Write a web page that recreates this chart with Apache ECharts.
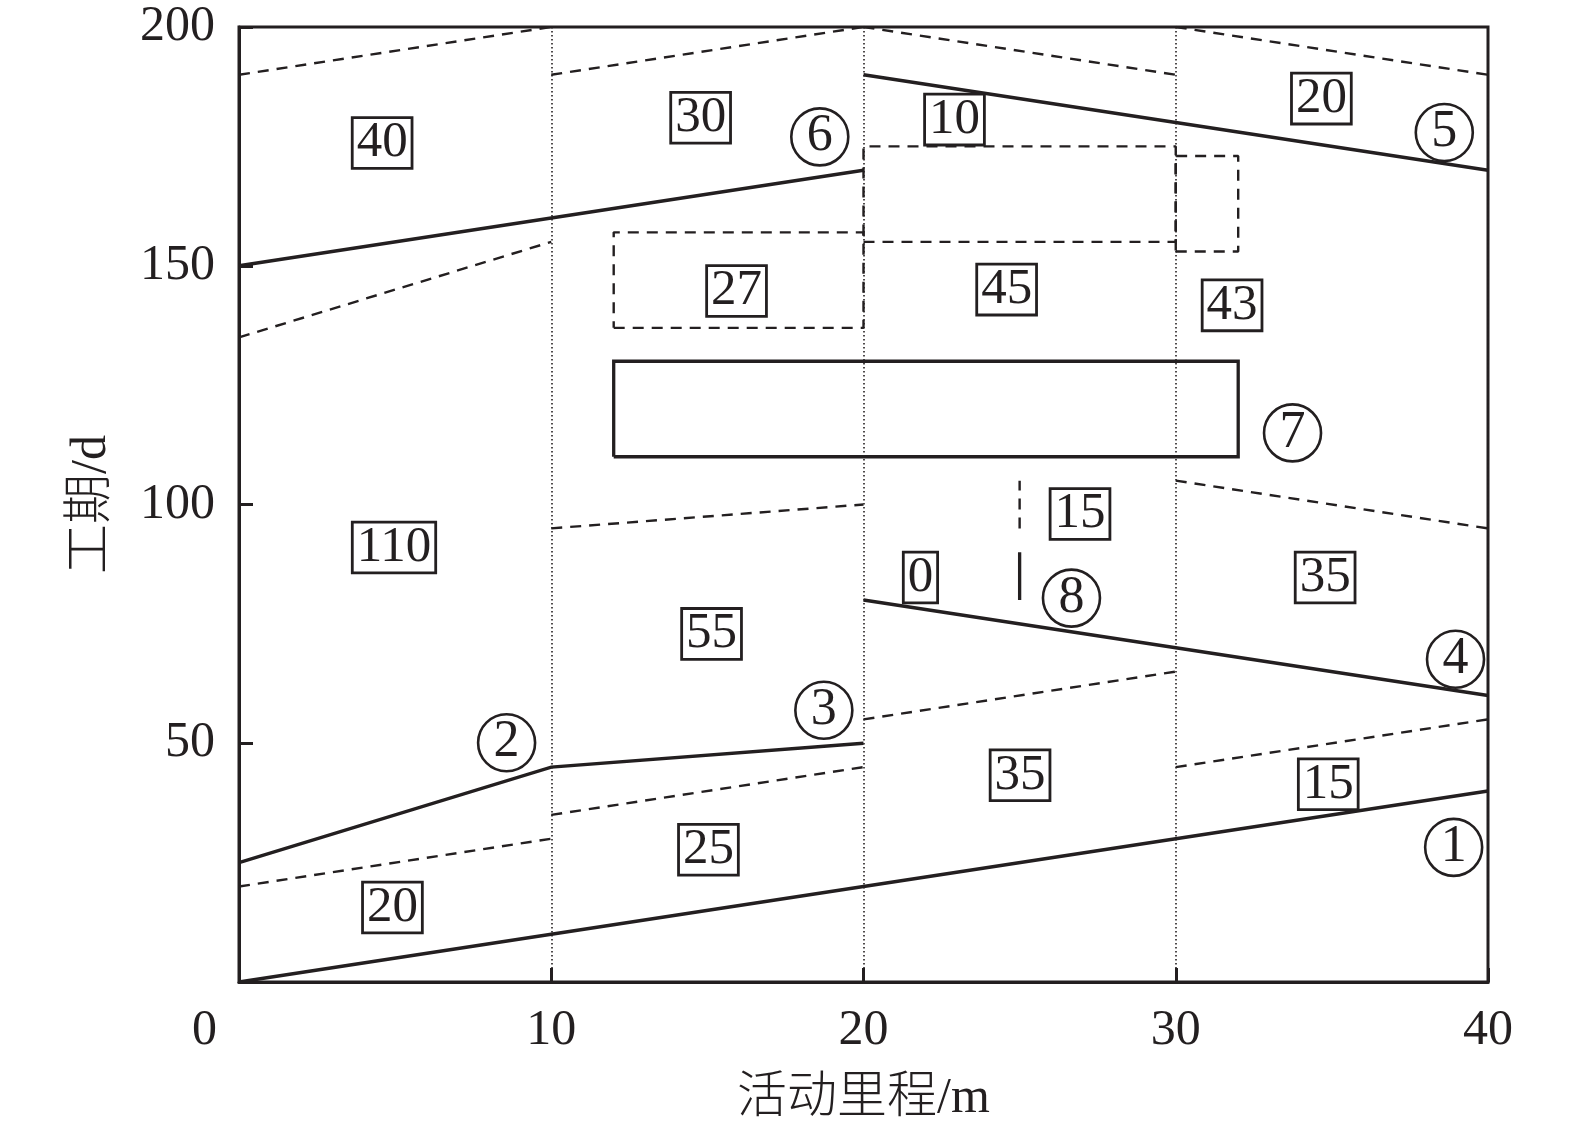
<!DOCTYPE html>
<html>
<head>
<meta charset="utf-8">
<script src="https://cdn.jsdelivr.net/npm/echarts@6/dist/echarts.min.js"></script>
<style>
html,body{margin:0;padding:0;background:#fff;}
#c{width:1575px;height:1129px;}
</style>
</head>
<body>
<div id="c"></div>
<script>
// ---- data ----
const xTicks = [0, 10, 20, 30, 40];
const yTicks = [0, 50, 100, 150, 200];
const xTitle = '活动里程/m';
const yTitle = '工期/d';

// solid polylines (x: mileage, y: days)
const solidLines = [
  [[0, 0], [40, 40]],                                   // ①
  [[0, 25], [10, 45], [20, 50]],                        // ②③
  [[20, 80], [40, 60]],                                 // ④
  [[20, 190], [40, 170]],                               // ⑤
  [[0, 150], [20, 170]],                                // ⑥
  [[12, 110], [32, 110], [32, 130], [12, 130], [12, 110]], // ⑦
  [[25, 80], [25, 90]]                                  // ⑧
];

// dashed polylines
const dashedLines = [
  [[0, 190], [10, 200]],
  [[10, 190], [20, 200]],
  [[20, 200], [30, 190]],
  [[30, 200], [40, 190]],
  [[20, 155], [30, 155], [30, 175], [20, 175], [20, 155]],
  [[30, 153], [32, 153], [32, 173], [30, 173], [30, 153]],
  [[12, 137], [20, 137], [20, 157], [12, 157], [12, 137]],
  [[0, 135], [10, 155]],
  [[10, 95], [20, 100]],
  [[30, 105], [40, 95]],
  [[25, 95], [25, 105]],
  [[20, 55], [30, 65]],
  [[0, 20], [10, 30]],
  [[10, 35], [20, 45]],
  [[30, 45], [40, 55]]
];

// boxed duration labels [x, y, text]
const boxLabels = [
  [4.6, 175.6, '40'],
  [14.8, 180.9, '30'],
  [22.93, 180.5, '10'],
  [34.68, 184.9, '20'],
  [15.95, 144.6, '27'],
  [24.6, 144.9, '45'],
  [31.82, 141.6, '43'],
  [4.98, 90.9, '110'],
  [26.95, 97.9, '15'],
  [21.84, 84.6, '0'],
  [34.8, 84.6, '35'],
  [15.15, 72.8, '55'],
  [25.03, 43.2, '35'],
  [34.9, 41.3, '15'],
  [15.05, 27.6, '25'],
  [4.93, 15.5, '20']
];

// circled line numbers [x, y, text]
const circleLabels = [
  [38.9, 28.2, '1'],
  [8.57, 50.1, '2'],
  [18.73, 56.9, '3'],
  [38.96, 67.6, '4'],
  [38.6, 177.9, '5'],
  [18.6, 177.0, '6'],
  [33.74, 115.0, '7'],
  [26.66, 80.4, '8']
];

// ---- styles ----
const INK = '#231f20';
const SERIF = "'Liberation Serif', 'Times New Roman', serif";
const CJK = "'Liberation Serif', 'Noto Sans CJK SC', serif";

const series = [];
solidLines.forEach(function (pts) {
  series.push({
    type: 'line', data: pts, symbol: 'none', silent: true, animation: false,
    lineStyle: { color: INK, width: 3.3, type: 'solid', cap: 'butt', join: 'miter' }
  });
});
dashedLines.forEach(function (pts) {
  series.push({
    type: 'line', data: pts, symbol: 'none', silent: true, animation: false,
    lineStyle: { color: INK, width: 2.4, type: [11, 8], cap: 'butt' }
  });
});
series.push({
  type: 'scatter', data: boxLabels, symbolSize: 1, silent: true, animation: false,
  itemStyle: { color: 'rgba(0,0,0,0)', opacity: 1 },
  label: {
    show: true, position: [0, 0], align: 'center', verticalAlign: 'middle',
    formatter: function (p) { return p.data[2]; },
    fontFamily: SERIF, fontSize: 51, color: INK,
    textBorderWidth: 0, textBorderColor: 'transparent', textShadowBlur: 0,
    lineHeight: 46, padding: [2, 3, 0, 3],
    borderColor: INK, borderWidth: 2.8, backgroundColor: '#fff'
  },
  z: 5
});
series.push({
  type: 'scatter', data: circleLabels, symbol: 'circle', symbolSize: 57, silent: true, animation: false,
  itemStyle: { color: 'rgba(0,0,0,0)', borderColor: INK, borderWidth: 2.6, opacity: 1 },
  label: {
    show: true, position: 'inside',
    formatter: function (p) { return p.data[2]; },
    fontFamily: SERIF, fontSize: 52, color: INK,
    textBorderWidth: 0, textBorderColor: 'transparent', textShadowBlur: 0
  },
  z: 5
});

const chart = echarts.init(document.getElementById('c'), null, { renderer: 'canvas' });
chart.setOption({
  backgroundColor: '#fff',
  animation: false,
  grid: { left: 239, right: 87, top: 27, bottom: 146, show: true, borderColor: INK, borderWidth: 3 },
  xAxis: {
    type: 'value', min: xTicks[0], max: xTicks[xTicks.length - 1], interval: 10,
    name: xTitle, nameLocation: 'middle', nameGap: 92,
    nameTextStyle: { fontFamily: CJK, fontSize: 50, color: INK, fontWeight: 300 },
    axisLine: { show: true, onZero: false, lineStyle: { color: INK, width: 3 } },
    axisTick: { show: true, inside: true, length: 14, lineStyle: { color: INK, width: 3 } },
    axisLabel: {
      fontFamily: SERIF, fontSize: 50, color: INK, margin: 24,
      formatter: function (v) { return v === 0 ? '{o|0}' : String(v); },
      rich: { o: { fontFamily: SERIF, fontSize: 50, color: INK, padding: [0, 69, 0, 0] } }
    },
    splitLine: { show: true, lineStyle: { color: INK, width: 1.6, type: [1.6, 2.4] } }
  },
  yAxis: {
    type: 'value', min: yTicks[0], max: yTicks[yTicks.length - 1], interval: 50,
    name: yTitle, nameLocation: 'middle', nameGap: 122, nameRotate: 90,
    nameTextStyle: { fontFamily: CJK, fontSize: 50, color: INK, fontWeight: 300 },
    axisLine: { show: true, onZero: false, lineStyle: { color: INK, width: 3 } },
    axisTick: { show: true, inside: true, length: 14, lineStyle: { color: INK, width: 3 } },
    axisLabel: {
      fontFamily: SERIF, fontSize: 50, color: INK, margin: 24,
      formatter: function (v) { return v === 0 ? '' : String(v); }
    },
    splitLine: { show: false }
  },
  series: series
});
</script>
</body>
</html>
